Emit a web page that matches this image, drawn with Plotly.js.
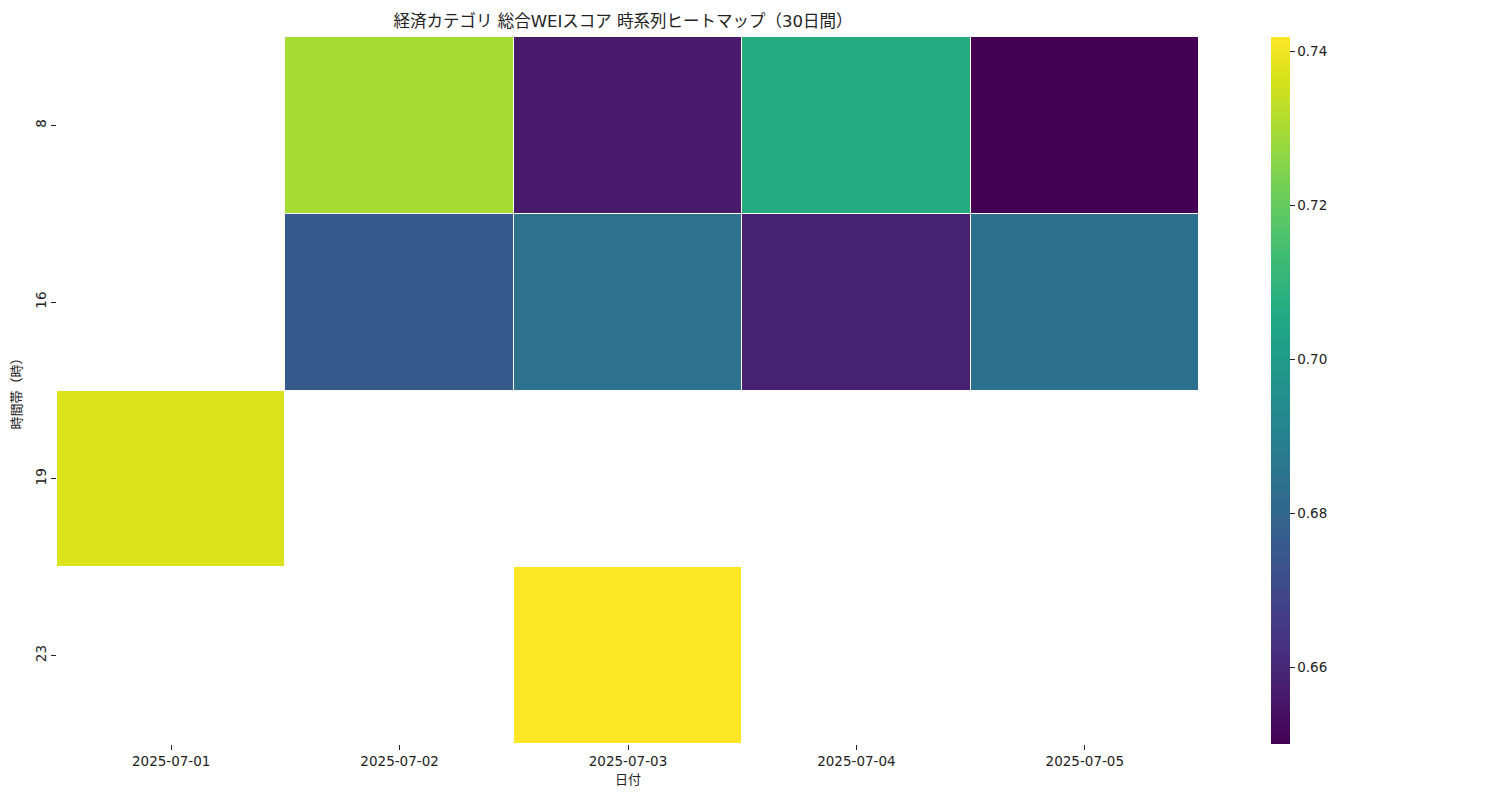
<!DOCTYPE html>
<html>
<head>
<meta charset="utf-8">
<script src="https://cdn.plot.ly/plotly-3.0.1.min.js"></script>
<style>html,body{margin:0;padding:0;background:#fff;}</style>
</head>
<body>
<div id="chart" style="width:1500px;height:800px;"></div>
<script>
const dates = ["2025-07-01", "2025-07-02", "2025-07-03", "2025-07-04", "2025-07-05"];
const hours = ["8", "16", "19", "23"];
const hour8  = [null, 0.7298, 0.6565, 0.7062, 0.6501];
const hour16 = [null, 0.6758, 0.6842, 0.6585, 0.6840];
const hour19 = [0.7372, null, null, null, null];
const hour23 = [null, null, 0.7419, null, null];

const FONT = "DejaVu Sans, Noto Sans CJK JP, sans-serif";

const trace = {
  type: "heatmap",
  x: dates,
  y: hours,
  z: [hour8, hour16, hour19, hour23],
  colorscale: "Viridis",
  zmin: 0.6501,
  zmax: 0.7419,
  xgap: 1,
  ygap: 1,
  hoverongaps: false,
  colorbar: {
    x: 1.063, xanchor: "left", xref: "paper", xpad: 0,
    y: 0.5, yanchor: "middle", len: 1, lenmode: "fraction", ypad: 0,
    thickness: 19, outlinewidth: 0,
    ticks: "outside", ticklen: 5, tickcolor: "#222",
    tick0: 0.66, dtick: 0.02, tickformat: ".2f",
    tickfont: {family: FONT, size: 13.5, color: "#222"}
  }
};

const layout = {
  width: 1500, height: 800,
  margin: {l: 57, r: 301, t: 37, b: 56},
  paper_bgcolor: "#fff", plot_bgcolor: "#fff",
  font: {family: FONT, size: 13.5, color: "#222"},
  title: {text: "経済カテゴリ 総合WEIスコア 時系列ヒートマップ（30日間）", x: 0.4153, xanchor: "center", y: 0.973, yanchor: "middle", font: {family: FONT, size: 16.5, color: "#222"}},
  xaxis: {
    type: "category", showgrid: false, zeroline: false, showline: false,
    ticks: "outside", ticklen: 5, tickcolor: "#222",
    tickfont: {family: FONT, size: 13.5},
    title: {text: "日付", standoff: 6, font: {family: FONT, size: 13}}
  },
  yaxis: {
    type: "category", autorange: "reversed", showgrid: false, zeroline: false, showline: false,
    ticks: "outside", ticklen: 5, tickcolor: "#222", tickangle: -90,
    tickfont: {family: FONT, size: 13.5},
    title: {text: "時間帯（時）", standoff: 8, font: {family: FONT, size: 13}}
  }
};

Plotly.newPlot("chart", [trace], layout, {displayModeBar: false});
</script>
</body>
</html>
